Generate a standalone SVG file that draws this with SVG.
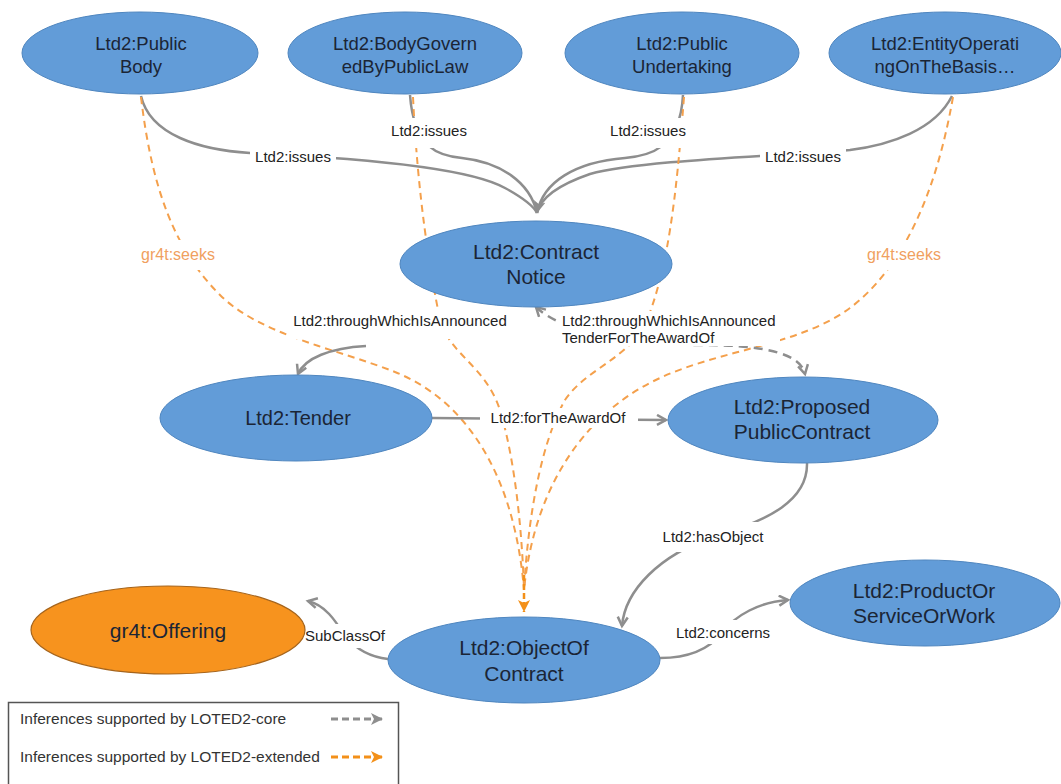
<svg xmlns="http://www.w3.org/2000/svg" width="1061" height="784" viewBox="0 0 1061 784">
<style>
.node{fill:#629cd8;stroke:#4f86bf;stroke-width:1}
.orangenode{fill:#f7931e;stroke:#a5641c;stroke-width:1.2}
.nt{font-family:"Liberation Sans",Arial,sans-serif;fill:#1b2535;text-anchor:middle}
.e{fill:none;stroke:#8e8e8e;stroke-width:2.5}
.ed{fill:none;stroke:#8e8e8e;stroke-width:2.5;stroke-dasharray:9,6}
.eo{fill:none;stroke:#f4a04c;stroke-width:2;stroke-dasharray:7,5}
.lt{font-family:"Liberation Sans",Arial,sans-serif;font-size:15px;fill:#222;text-anchor:middle}
.ltl{font-family:"Liberation Sans",Arial,sans-serif;font-size:15px;fill:#222}
.ot{font-family:"Liberation Sans",Arial,sans-serif;font-size:16px;fill:#f0a060;text-anchor:middle}
.bg{fill:#fff}
.leg{font-family:"Liberation Sans",Arial,sans-serif;font-size:15.5px;fill:#333}
</style>
<defs>
<marker id="ag" markerUnits="userSpaceOnUse" markerWidth="14" markerHeight="14" refX="10" refY="6" orient="auto-start-reverse"><path d="M1,1 L10,6 L1,11" fill="none" stroke="#8e8e8e" stroke-width="2.5"/></marker>
<marker id="agf" markerUnits="userSpaceOnUse" markerWidth="14" markerHeight="14" refX="12" refY="6" orient="auto"><path d="M0,0 L12,6 L0,12 L3,6 Z" fill="#8e8e8e"/></marker>
<marker id="aof" markerUnits="userSpaceOnUse" markerWidth="14" markerHeight="14" refX="12" refY="6" orient="auto"><path d="M0,0 L12,6 L0,12 L3,6 Z" fill="#f39019"/></marker>
</defs>
<rect width="1061" height="784" fill="#fff"/>
<g id="connectors">
<!-- issues -->
<path class="e" d="M141,96 C150,135 200,150 250,153 C360,158 470,168 505,188 C525,199 534,207 537,213"/>
<path class="e" d="M410,95 C414,150 440,156 462,158 C500,162 530,182 537,213"/>
<path class="e" d="M683,95 C680,150 648,156 625,158 C575,162 543,182 537,213"/>
<path class="e" d="M952,96 C935,130 890,145 850,150 C780,156 640,160 590,174 C555,186 540,200 537,213" marker-end="url(#agf)"/>
<!-- seeks -->
<path class="eo" d="M141,97 C152,190 175,250 220,295 C260,335 340,350 395,372 C470,402 515,480 524,590"/>
<path class="eo" d="M413,97 C418,200 430,270 440,320 C450,355 485,365 500,410 C515,460 522,530 524,590"/>
<path class="eo" d="M684,97 C676,200 668,270 645,325 C625,360 585,370 565,400 C540,445 528,520 524,590"/>
<path class="eo" d="M953,97 C935,200 900,270 850,308 C800,345 720,350 660,378 C590,410 535,480 524,590"/>
<path d="M524,575 L524,612" fill="none" stroke="#f39019" stroke-width="2.5" stroke-dasharray="6,3" marker-end="url(#aof)"/>
<!-- throughWhichIsAnnounced -->
<path class="e" d="M366,346 C330,348 305,358 298,374" marker-end="url(#ag)"/>
<!-- throughWhichIsAnnounced TenderForTheAwardOf -->
<path class="ed" d="M536,307 C560,330 620,345 700,345 C760,345 800,352 805,374" marker-start="url(#ag)" marker-end="url(#ag)"/>
<!-- forTheAwardOf -->
<path class="e" d="M432,418 L666,420" marker-end="url(#ag)"/>
<!-- hasObject -->
<path class="e" d="M807,463 C808,500 770,520 713,537 C660,555 625,590 622,626" marker-end="url(#ag)"/>
<!-- concerns -->
<path class="e" d="M660,658 C690,658 710,648 722,633 C735,615 760,602 788,600" marker-end="url(#ag)"/>
<!-- SubClassOf -->
<path class="e" d="M388,659 C370,657 355,648 345,636 C335,620 325,605 308,601" marker-end="url(#ag)"/>
<!-- labels -->
<rect class="bg" x="250" y="147" width="86" height="20"/><text class="lt" x="293" y="162">Ltd2:issues</text>
<rect class="bg" x="386" y="118" width="86" height="30"/><text class="lt" x="429" y="136">Ltd2:issues</text>
<rect class="bg" x="605" y="118" width="86" height="30"/><text class="lt" x="648" y="136">Ltd2:issues</text>
<rect class="bg" x="760" y="147" width="86" height="20"/><text class="lt" x="803" y="162">Ltd2:issues</text>
<rect class="bg" x="134" y="240" width="88" height="30"/><text class="ot" x="178" y="260">gr4t:seeks</text>
<rect class="bg" x="860" y="240" width="88" height="30"/><text class="ot" x="904" y="260">gr4t:seeks</text>
<rect class="bg" x="288" y="311" width="224" height="28"/><text class="lt" x="400" y="326">Ltd2:throughWhichIsAnnounced</text>
<rect class="bg" x="558" y="311" width="222" height="35"/><text class="ltl" x="562" y="326">Ltd2:throughWhichIsAnnounced</text><text class="ltl" x="562" y="343">TenderForTheAwardOf</text>
<rect class="bg" x="480" y="408" width="158" height="20"/><text class="lt" x="558" y="423">Ltd2:forTheAwardOf</text>
<rect class="bg" x="656" y="522" width="114" height="30"/><text class="lt" x="713" y="542">Ltd2:hasObject</text>
<rect class="bg" x="676" y="620" width="94" height="24"/><text class="lt" x="723" y="638">Ltd2:concerns</text>
<rect class="bg" x="302" y="624" width="86" height="24"/><text class="lt" x="345" y="641">SubClassOf</text>
</g>
<g id="n-publicbody"><ellipse class="node" cx="140" cy="53" rx="118" ry="41"/><text class="nt" font-size="18.5" x="141" y="50">Ltd2:Public</text><text class="nt" font-size="18.5" x="141" y="73">Body</text></g>
<g id="n-bodygoverned"><ellipse class="node" cx="405" cy="53" rx="117" ry="41"/><text class="nt" font-size="18.5" x="405" y="50">Ltd2:BodyGovern</text><text class="nt" font-size="18.5" x="405" y="73">edByPublicLaw</text></g>
<g id="n-publicundertaking"><ellipse class="node" cx="682" cy="53" rx="117" ry="41"/><text class="nt" font-size="18.5" x="682" y="50">Ltd2:Public</text><text class="nt" font-size="18.5" x="682" y="73">Undertaking</text></g>
<g id="n-entityoperating"><ellipse class="node" cx="945" cy="53" rx="116" ry="41"/><text class="nt" font-size="18.5" x="945" y="50">Ltd2:EntityOperati</text><text class="nt" font-size="18.5" x="945" y="73">ngOnTheBasis…</text></g>
<g id="n-contractnotice"><ellipse class="node" cx="536" cy="264" rx="136" ry="43"/><text class="nt" font-size="21" x="536" y="259">Ltd2:Contract</text><text class="nt" font-size="21" x="536" y="284">Notice</text></g>
<g id="n-tender"><ellipse class="node" cx="296" cy="418" rx="136" ry="43"/><text class="nt" font-size="20" x="298" y="425">Ltd2:Tender</text></g>
<g id="n-proposed"><ellipse class="node" cx="803" cy="420" rx="135" ry="43"/><text class="nt" font-size="21" x="802" y="414">Ltd2:Proposed</text><text class="nt" font-size="21" x="802" y="439">PublicContract</text></g>
<g id="n-offering"><ellipse class="orangenode" cx="168" cy="630" rx="137" ry="44"/><text class="nt" font-size="21" x="168" y="638">gr4t:Offering</text></g>
<g id="n-objectofcontract"><ellipse class="node" cx="524" cy="660" rx="136" ry="43"/><text class="nt" font-size="21" x="524" y="655">Ltd2:ObjectOf</text><text class="nt" font-size="21" x="524" y="681">Contract</text></g>
<g id="n-product"><ellipse class="node" cx="925" cy="603" rx="135" ry="43"/><text class="nt" font-size="21" x="924" y="598">Ltd2:ProductOr</text><text class="nt" font-size="21" x="924" y="623">ServiceOrWork</text></g>
<g id="legend">
<rect x="8.5" y="702.5" width="390" height="100" fill="#fff" stroke="#555" stroke-width="1.5"/>
<text class="leg" x="20" y="724">Inferences supported by LOTED2-core</text>
<text class="leg" x="20" y="762">Inferences supported by LOTED2-extended</text>
<path d="M331,719 L383,719" fill="none" stroke="#8e8e8e" stroke-width="3" stroke-dasharray="7,4" marker-end="url(#agf)"/>
<path d="M331,757 L383,757" fill="none" stroke="#f39019" stroke-width="3" stroke-dasharray="7,4" marker-end="url(#aof)"/>
</g>
</svg>
